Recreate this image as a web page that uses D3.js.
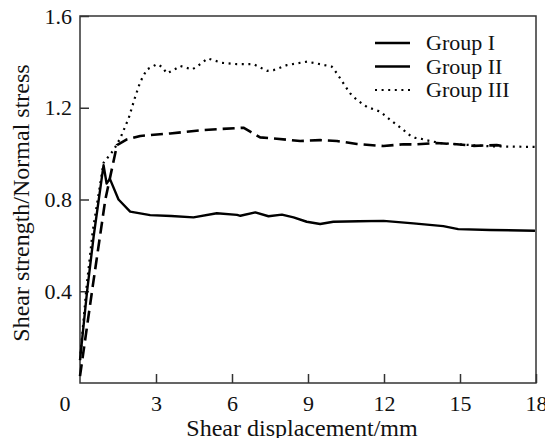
<!DOCTYPE html>
<html>
<head>
<meta charset="utf-8">
<script src="https://cdn.jsdelivr.net/npm/d3@7"></script>
<style>
  body { margin: 0; background: #fff; }
</style>
</head>
<body>
<svg id="chart" width="545" height="438"></svg>
<script>
// values
const groupI = [
  [0, 0.1], [0.28, 0.4], [0.54, 0.64], [0.93, 0.95], [1.05, 0.87], [1.18, 0.89],
  [1.52, 0.8], [1.98, 0.747], [2.77, 0.732], [3.6, 0.728], [4.48, 0.722],
  [5.4, 0.74], [6.2, 0.733], [6.33, 0.729], [6.92, 0.744], [7.44, 0.727],
  [7.97, 0.734], [8.43, 0.722], [8.95, 0.703], [9.48, 0.693], [10.0, 0.703],
  [11.0, 0.705], [11.98, 0.707], [13.16, 0.696], [14.34, 0.684], [14.93, 0.671],
  [16.19, 0.667], [17.96, 0.664]
];
const groupII = [
  [0, 0.03], [0.5, 0.42], [1.0, 0.8], [1.46, 1.037], [1.85, 1.062], [2.38, 1.077],
  [2.77, 1.081], [3.56, 1.088], [4.88, 1.103], [6.45, 1.113], [6.72, 1.096],
  [7.11, 1.071], [7.77, 1.065], [8.69, 1.055], [9.48, 1.059], [10.14, 1.055],
  [10.93, 1.042], [11.98, 1.033], [12.77, 1.041], [13.16, 1.04], [14.07, 1.046],
  [14.87, 1.041], [15.53, 1.034], [16.45, 1.037], [16.78, 1.032]
];
const groupIII = [
  [0, 0.1], [0.25, 0.41], [0.5, 0.66], [0.93, 0.96], [1.33, 1.016], [1.59, 1.067],
  [1.92, 1.154], [2.18, 1.248], [2.38, 1.313], [2.64, 1.367], [3.04, 1.39],
  [3.23, 1.379], [3.43, 1.35], [3.69, 1.364], [3.96, 1.382], [4.42, 1.367],
  [4.61, 1.379], [5.04, 1.415], [5.6, 1.396], [6.19, 1.39], [6.85, 1.39],
  [7.38, 1.361], [7.64, 1.364], [8.17, 1.386], [8.96, 1.401], [9.48, 1.39],
  [9.94, 1.379], [10.14, 1.35], [10.4, 1.306], [10.66, 1.263], [10.93, 1.234],
  [11.32, 1.204], [11.85, 1.183], [12.24, 1.148], [12.77, 1.103], [12.96, 1.084],
  [13.23, 1.069], [13.49, 1.064], [13.69, 1.058], [14.21, 1.046], [14.87, 1.041],
  [16.19, 1.032], [18, 1.029]
];
const xTicks = [3, 6, 9, 12, 15, 18];
const yTicks = [0.4, 0.8, 1.2, 1.6];
const legendNames = ["Group I", "Group II", "Group III"];

const FONT = "'Liberation Serif', 'Times New Roman', serif";

const svg = d3.select("#chart");
const plotL = 80, plotR = 536, plotT = 16, plotB = 383;

const x = d3.scaleLinear().domain([0, 18]).range([plotL, plotR]);
const y = d3.scaleLinear().domain([0, 1.6]).range([plotB, plotT]);

// frame
svg.append("rect")
  .attr("x", plotL).attr("y", plotT)
  .attr("width", plotR - plotL).attr("height", plotB - plotT)
  .attr("fill", "none").attr("stroke", "#333").attr("stroke-width", 1.5);

// inward ticks
const xAxis = svg.append("g")
  .attr("transform", `translate(0,${plotB})`)
  .call(d3.axisBottom(x).tickValues(xTicks).tickSizeInner(-9).tickSizeOuter(0).tickPadding(12));
const yAxis = svg.append("g")
  .attr("transform", `translate(${plotL},0)`)
  .call(d3.axisLeft(y).tickValues(yTicks).tickSizeInner(-9).tickSizeOuter(0).tickPadding(8)
    .tickFormat(d3.format(".1f")));

[xAxis, yAxis].forEach((g) => {
  g.attr("font-family", FONT).attr("font-size", 22);
  g.select(".domain").remove();
  g.selectAll(".tick line").attr("stroke", "#333").attr("stroke-width", 1.5);
  g.selectAll(".tick text").attr("fill", "#111");
});

// lone "0" at the corner
svg.append("text").text("0")
  .attr("x", 65).attr("y", 411)
  .attr("text-anchor", "middle")
  .attr("font-family", FONT).attr("font-size", 22).attr("fill", "#111");

// titles
svg.append("text").text("Shear displacement/mm")
  .attr("x", 302).attr("y", 436)
  .attr("text-anchor", "middle")
  .attr("font-family", FONT).attr("font-size", 24).attr("fill", "#111");
svg.append("text").text("Shear strength/Normal stress")
  .attr("transform", "translate(29,203) rotate(-90)")
  .attr("text-anchor", "middle")
  .attr("font-family", FONT).attr("font-size", 24).attr("fill", "#111");

const line = d3.line().x((d) => x(d[0])).y((d) => y(d[1])).curve(d3.curveLinear);

const series = [
  { data: groupI, dash: null, width: 2.4 },
  { data: groupII, dash: "12,6", width: 2.6 },
  { data: groupIII, dash: "2,4.6", width: 2.2 }
];

svg.append("g")
  .selectAll("path")
  .data(series)
  .enter()
  .append("path")
  .attr("d", (d) => line(d.data))
  .attr("fill", "none")
  .attr("stroke", "#000")
  .attr("stroke-width", (d) => d.width)
  .attr("stroke-dasharray", (d) => d.dash)
  .attr("stroke-linejoin", "round");

// legend (as in the figure, Group II is shown with a solid swatch)
const legendDash = [null, null, "2,4.6"];
const legend = svg.append("g");
legend.selectAll("line")
  .data(legendNames)
  .enter()
  .append("line")
  .attr("x1", 375).attr("x2", 410)
  .attr("y1", (d, i) => 43 + i * 23.5)
  .attr("y2", (d, i) => 43 + i * 23.5)
  .attr("stroke", "#000")
  .attr("stroke-width", (d, i) => (i === 2 ? 2.2 : 2.4))
  .attr("stroke-dasharray", (d, i) => legendDash[i]);
legend.selectAll("text")
  .data(legendNames)
  .enter()
  .append("text")
  .text((d) => d)
  .attr("x", 426)
  .attr("y", (d, i) => 50 + i * 23.5)
  .attr("font-family", FONT).attr("font-size", 22).attr("fill", "#111");
</script>
</body>
</html>
